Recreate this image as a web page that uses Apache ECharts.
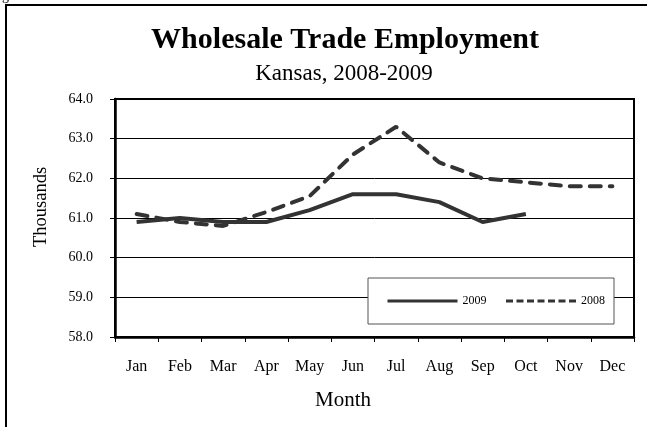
<!DOCTYPE html>
<html>
<head>
<meta charset="utf-8">
<script src="https://cdn.jsdelivr.net/npm/echarts@6/dist/echarts.min.js"></script>
<style>
  html, body { margin: 0; padding: 0; background: #fff; }
</style>
</head>
<body>
<div id="chart" style="width: 647px; height: 427px"></div>
<script>
// data
const months = ['Jan', 'Feb', 'Mar', 'Apr', 'May', 'Jun', 'Jul', 'Aug', 'Sep', 'Oct', 'Nov', 'Dec']
const emp2009 = [60.9, 61.0, 60.9, 60.9, 61.2, 61.6, 61.6, 61.4, 60.9, 61.1]
const emp2008 = [61.1, 60.9, 60.8, 61.15, 61.55, 62.6, 63.3, 62.4, 62.0, 61.9, 61.8, 61.8]

const serif = 'Liberation Serif'
const myChart = echarts.init(document.getElementById('chart'))

const option = {
  animation: false,
  title: [
    {
      text: 'Wholesale Trade Employment',
      left: 340,
      top: 20,
      textAlign: 'center',
      textStyle: { fontFamily: serif, fontSize: 30, fontWeight: 'bold', color: '#000' }
    },
    {
      text: 'Kansas, 2008-2009',
      left: 339,
      top: 57,
      textAlign: 'center',
      textStyle: { fontFamily: serif, fontSize: 23, fontWeight: 'normal', color: '#000' }
    }
  ],
  graphic: [
    {
      type: 'rect',
      shape: { x: 6, y: 5, width: 700, height: 500 },
      style: { fill: 'none', stroke: '#000', lineWidth: 2 },
      silent: true
    },
    {
      type: 'text',
      x: 2,
      y: -11,
      style: { text: 'gure', font: '14px "Liberation Serif"', fill: '#000' },
      silent: true
    },
    {
      // y axis title sits a bit above the plot's middle in the reference
      type: 'text',
      x: 41,
      y: 207,
      rotation: Math.PI / 2,
      style: {
        text: 'Thousands',
        font: '18.5px "Liberation Serif"',
        fill: '#000',
        align: 'center',
        verticalAlign: 'middle'
      },
      silent: true
    },
    {
      type: 'text',
      x: 343,
      y: 400,
      style: {
        text: 'Month',
        font: '21px "Liberation Serif"',
        fill: '#000',
        align: 'center',
        verticalAlign: 'middle'
      },
      silent: true
    }
  ],
  legend: {
    left: 368,
    top: 278,
    orient: 'horizontal',
    backgroundColor: '#fff',
    borderColor: '#555',
    borderWidth: 1,
    borderRadius: 0,
    padding: [17, 9, 17, 18],
    itemWidth: 70,
    itemHeight: 14,
    itemGap: 18,
    textStyle: { fontFamily: serif, fontSize: 12, color: '#000' },
    data: [
      { name: '2009', itemStyle: { opacity: 0 }, lineStyle: { width: 3 } },
      { name: '2008', itemStyle: { opacity: 0 }, lineStyle: { width: 3, type: [7, 3.5], cap: 'butt' } }
    ]
  },
  grid: {
    left: 115,
    right: 13,
    top: 99,
    bottom: 90,
    show: true,
    borderColor: '#000',
    borderWidth: 2
  },
  xAxis: {
    type: 'category',
    data: months,
    boundaryGap: true,
    axisLine: { lineStyle: { color: '#000', width: 2.5 } },
    axisTick: { show: true, length: 5, lineStyle: { color: '#000', width: 1 } },
    axisLabel: { margin: 22, fontFamily: serif, fontSize: 16, color: '#000' }
  },
  yAxis: {
    type: 'value',
    min: 58,
    max: 64,
    interval: 1,
    axisLine: { show: true, lineStyle: { color: '#000', width: 2.5 } },
    axisTick: { show: true, length: 5, lineStyle: { color: '#000', width: 1 } },
    axisLabel: {
      margin: 22,
      fontFamily: serif,
      fontSize: 14,
      color: '#000',
      formatter: (v) => v.toFixed(1)
    },
    splitLine: { show: true, lineStyle: { color: '#000', width: 1 } }
  },
  series: [
    {
      name: '2009',
      type: 'line',
      symbol: 'none',
      data: emp2009,
      lineStyle: { color: '#333', width: 4 },
      itemStyle: { color: '#333' },
      z: 3
    },
    {
      name: '2008',
      type: 'line',
      symbol: 'none',
      data: emp2008,
      lineStyle: { color: '#333', width: 4, type: [11, 9], cap: 'round' },
      itemStyle: { color: '#333' },
      z: 2
    }
  ]
}

myChart.setOption(option)
</script>
</body>
</html>
